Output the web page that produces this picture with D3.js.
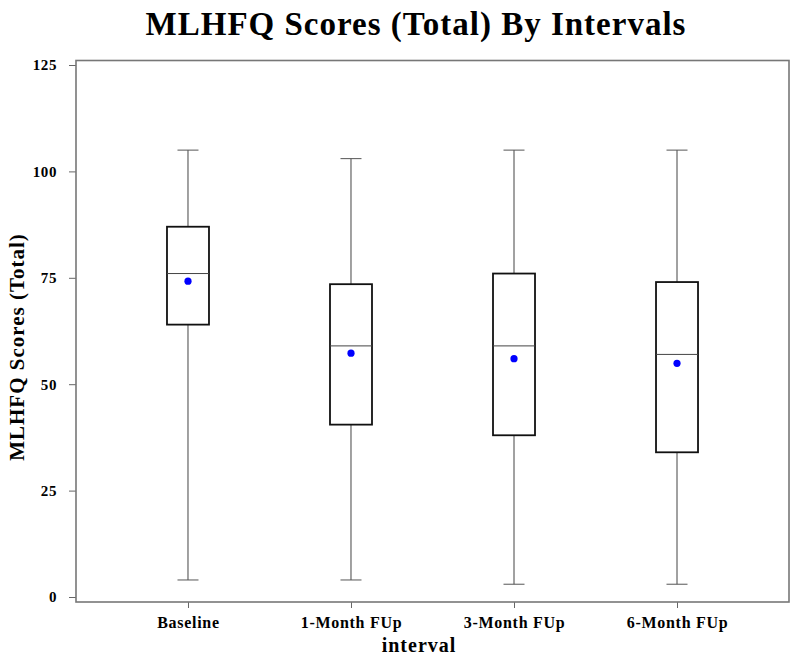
<!DOCTYPE html>
<html><head><meta charset="utf-8">
<script src="https://cdn.jsdelivr.net/npm/d3@7"></script>
<style>body{margin:0;background:#fff}</style>
</head><body>
<svg id="c" width="800" height="662"></svg>
<script>
const categories = ["Baseline","1-Month FUp","3-Month FUp","6-Month FUp"];
const whiskerLow = [4, 4, 3, 3];
const q1Values = [64, 40.5, 38, 34];
const medianValues = [76, 59, 59, 57];
const q3Values = [87, 73.5, 76, 74];
const whiskerHigh = [105, 103, 105, 105];
const meanValues = [74.2, 57.3, 56, 54.9];
const yTicks = [0, 25, 50, 75, 100, 125];

const svg = d3.select("#c");
const L = 76, R = 789, T = 60.5, B = 602;
const y = d3.scaleLinear().domain([0,125]).range([597,65]);
const x = d3.scalePoint().domain(categories).range([L,R]).padding(0.687);
const font = "'Liberation Serif','Times New Roman',serif";
const boxW = 42, capW = 21;

// title
svg.append("text").attr("x",416).attr("y",35).attr("text-anchor","middle")
  .attr("font-family",font).attr("font-weight","bold").attr("font-size",33)
  .attr("letter-spacing",1).attr("fill","#000").text("MLHFQ Scores (Total) By Intervals");

// y axis
const ya = svg.append("g").attr("transform",`translate(${L},0)`)
  .call(d3.axisLeft(y).tickValues(yTicks).tickSize(7).tickPadding(12));
ya.select(".domain").remove();
ya.selectAll(".tick line").attr("stroke","#666").attr("stroke-width",1);
ya.selectAll(".tick text").attr("font-family",font).attr("font-weight","bold")
  .attr("font-size",15).attr("letter-spacing",0.6).attr("fill","#000");

// x axis
const xa = svg.append("g").attr("transform",`translate(0,${B})`)
  .call(d3.axisBottom(x).tickSize(6).tickPadding(9));
xa.select(".domain").remove();
xa.selectAll(".tick line").attr("stroke","#666").attr("stroke-width",1);
xa.selectAll(".tick text").attr("font-family",font).attr("font-weight","bold")
  .attr("font-size",16).attr("letter-spacing",0.7).attr("fill","#000");

// axis labels
svg.append("text").attr("x",419).attr("y",652).attr("text-anchor","middle")
  .attr("font-family",font).attr("font-weight","bold").attr("font-size",20)
  .attr("letter-spacing",1).text("interval");
svg.append("text").attr("transform","translate(24,347) rotate(-90)").attr("text-anchor","middle")
  .attr("font-family",font).attr("font-weight","bold").attr("font-size",21)
  .attr("letter-spacing",1).text("MLHFQ Scores (Total)");

// frame
svg.append("rect").attr("x",L).attr("y",T).attr("width",R-L).attr("height",B-T)
  .attr("fill","none").attr("stroke","#777").attr("stroke-width",1.6);

// boxes
const g = svg.append("g");
categories.forEach((c,i)=>{
  const cx = x(c);
  g.append("line").attr("x1",cx).attr("x2",cx).attr("y1",y(whiskerHigh[i])).attr("y2",y(q3Values[i]))
    .attr("stroke","#444").attr("stroke-width",1);
  g.append("line").attr("x1",cx).attr("x2",cx).attr("y1",y(q1Values[i])).attr("y2",y(whiskerLow[i]))
    .attr("stroke","#444").attr("stroke-width",1);
  g.append("line").attr("x1",cx-capW/2).attr("x2",cx+capW/2).attr("y1",y(whiskerHigh[i])).attr("y2",y(whiskerHigh[i]))
    .attr("stroke","#555").attr("stroke-width",1);
  g.append("line").attr("x1",cx-capW/2).attr("x2",cx+capW/2).attr("y1",y(whiskerLow[i])).attr("y2",y(whiskerLow[i]))
    .attr("stroke","#555").attr("stroke-width",1);
  g.append("rect").attr("x",cx-boxW/2).attr("y",y(q3Values[i])).attr("width",boxW)
    .attr("height",y(q1Values[i])-y(q3Values[i])).attr("fill","#fff")
    .attr("stroke","#111").attr("stroke-width",1.8);
  g.append("line").attr("x1",cx-boxW/2).attr("x2",cx+boxW/2).attr("y1",y(medianValues[i])).attr("y2",y(medianValues[i]))
    .attr("stroke","#444").attr("stroke-width",1);
  g.append("circle").attr("cx",cx).attr("cy",y(meanValues[i])).attr("r",3.6).attr("fill","#0000ff");
});
</script>
</body></html>
